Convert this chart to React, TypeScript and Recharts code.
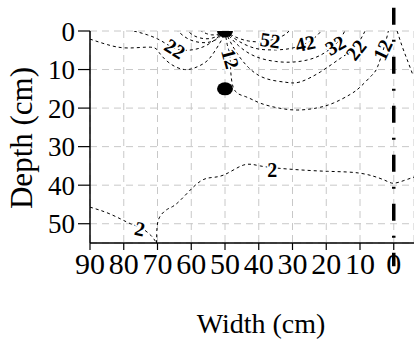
import React from 'react'
import {
  ComposedChart,
  Line,
  Scatter,
  XAxis,
  YAxis,
  CartesianGrid,
  ReferenceLine,
} from 'recharts'

// width (cm) runs 90 -> 0 from left to right, depth (cm) grows downwards
const WIDTH_TICKS = [90, 80, 70, 60, 50, 40, 30, 20, 10, 0]
const TOP_TICKS = [80, 70, 60, 50, 40, 30, 20, 10, 0]
const DEPTH_TICKS = [0, 10, 20, 30, 40, 50]

// contour traces as [width, depth]
const C52_RIGHT = [[50, 0], [47, 1.5], [43, 2.6], [39, 2.8], [36.6, 2.4], [33, 1.3], [31, 0]]
const C52_LEFT = [[50, 0], [52, 0.8], [54, 1], [56, 0.5], [57, 0]]
const C42_RIGHT = [[50, 0], [46, 2.6], [41, 4.5], [36, 4.9], [31, 4.6], [26.5, 3.4], [23.5, 1.8], [21.5, 0]]
const C42_LEFT = [[50, 0], [53, 1.6], [56, 2], [59, 1.3], [61, 0]]
const C32_RIGHT = [[50, 0], [46, 3.8], [41, 6.6], [35, 7.9], [29, 8], [23, 6.8], [18.5, 4.4], [16, 2.2], [14.5, 0]]
const C32_LEFT = [[50, 0], [53, 2.4], [57, 3], [61, 2], [64, 0]]
const C22_RIGHT = [[50, 0], [47, 5], [43, 9.5], [38, 12.3], [32, 13.3], [27.7, 13.2], [21.7, 10.6], [16, 7.2], [12.3, 4.9], [10, 2.4], [8.5, 0]]
const C22_LEFT = [[77, 0], [73, 1], [69, 2.5], [65, 4.5], [61, 5], [57, 4.3], [53.5, 2.6], [50, 0]]
const C12_LEFT = [[90, 2.1], [85, 3.5], [79, 4.4], [72, 4.2], [69.5, 5.6], [66.5, 8.3], [62, 10], [58, 9.2], [55, 7.5], [52.5, 4.5], [50.5, 1.5], [50, 0]]
const C12_RIGHT = [[50, 0], [49.2, 4], [48.5, 7], [47.6, 14.5], [44, 17], [39.6, 18.7], [34, 20], [28.6, 20.5], [23, 20], [17.9, 18.7], [13, 16.5], [9.9, 14.5], [6.5, 11.5], [4.8, 9.3], [3.1, 4.9], [2.2, 2.2], [1.6, 0]]
const C12_MIRROR = [[-1, 0], [-2.5, 4], [-4, 7.5], [-5.5, 11]]
const C2_LOWER = [[90, 45.7], [84, 47.5], [78, 50], [75, 51], [72, 53], [70.3, 55]]
const C2_MAIN = [[70.3, 55], [70.2, 52], [69.5, 48.5], [67, 46.2], [64.2, 44.7], [59.4, 40.5], [55.3, 38.2], [50.5, 37.4], [44.6, 34.8], [39.6, 35], [31.5, 35.8], [19.7, 36.4], [9.9, 36.9], [3, 38.6], [0.1, 39.5], [-3, 38.8], [-6, 37.9]]

const CONTOURS = [
  C52_RIGHT, C52_LEFT, C42_RIGHT, C42_LEFT, C32_RIGHT, C32_LEFT,
  C22_RIGHT, C22_LEFT, C12_LEFT, C12_RIGHT, C12_MIRROR, C2_LOWER, C2_MAIN,
]

const CONTOUR_LABELS = [
  { id: 'l22', text: '22', w: 64.8, d: 4.6 },
  { id: 'l12', text: '12', w: 48.4, d: 7.2 },
  { id: 'r52', text: '52', w: 36.6, d: 2.4 },
  { id: 'r42', text: '42', w: 26.2, d: 3.2 },
  { id: 'r32', text: '32', w: 17.3, d: 3.7 },
  { id: 'r22', text: '22', w: 11.2, d: 4.9 },
  { id: 'r12', text: '12', w: 3.3, d: 4.9 },
  { id: 'm2', text: '2', w: 36, d: 36 },
  { id: 'b2', text: '2', w: 75.2, d: 51.3 },
]

const EMITTERS = [
  { w: 50, d: 0 },
  { w: 50, d: 15 },
]

const LABEL_ANGLE: Record<string, number> = {
  l22: 32, l12: 75, r52: 8, r42: -12, r32: -30, r22: -52, r12: -65, m2: 0, b2: 12,
}

const serif = { fontFamily: 'Liberation Serif' }

const toPoints = (c: number[][]) => c.map(([w, d]) => ({ w, d }))

const ContourLabel = (props: any) => {
  const { cx, cy, payload } = props
  const angle = LABEL_ANGLE[payload.id] ?? 0
  return (
    <text
      x={cx}
      y={cy}
      transform={`rotate(${angle} ${cx} ${cy})`}
      textAnchor="middle"
      dominantBaseline="central"
      style={serif}
      fontSize={20}
      fontWeight="bold"
      fill="#000"
      stroke="#fff"
      strokeWidth={3}
      paintOrder="stroke"
    >
      {payload.text}
    </text>
  )
}

const Emitter = (props: any) => <ellipse cx={props.cx} cy={props.cy} rx={8} ry={6.5} fill="#000" />

const XTitle = () => (
  <text x={261} y={333} textAnchor="middle" style={serif} fontSize={28} fill="#000">
    Width (cm)
  </text>
)

const YTitle = () => (
  <text x={32} y={138} transform="rotate(-90 32 138)" textAnchor="middle" style={serif} fontSize={31} fill="#000">
    Depth (cm)
  </text>
)

export default function App() {
  return (
    <div style={{ position: 'absolute', top: 0, left: 0, width: 414, height: 340, background: '#fff' }}>
      <ComposedChart width={414} height={340} margin={{ top: 31, right: 0, bottom: 0, left: 0 }}>
        <CartesianGrid xAxisId="bottom" stroke="#c8c8c8" strokeDasharray="7 5" />
        <XAxis
          xAxisId="bottom"
          type="number"
          dataKey="w"
          domain={[-6, 90]}
          reversed
          allowDataOverflow
          ticks={WIDTH_TICKS}
          interval={0}
          height={97}
          tickSize={7}
          tickMargin={3}
          axisLine={{ stroke: '#000', strokeWidth: 1.5 }}
          tickLine={{ stroke: '#000', strokeWidth: 1.2 }}
          tick={{ fontSize: 30, fill: '#000', style: serif }}
          label={<XTitle />}
        />
        <XAxis
          xAxisId="top"
          orientation="top"
          type="number"
          dataKey="w"
          domain={[-6, 90]}
          reversed
          allowDataOverflow
          ticks={TOP_TICKS}
          interval={0}
          height={0}
          tickSize={8}
          tickFormatter={() => ''}
          axisLine={{ stroke: '#000', strokeWidth: 1.5 }}
          tickLine={{ stroke: '#000', strokeWidth: 1.2 }}
        />
        <YAxis
          type="number"
          dataKey="d"
          domain={[0, 55]}
          reversed
          allowDataOverflow
          ticks={DEPTH_TICKS}
          interval={0}
          width={90}
          tickSize={12}
          tickMargin={3}
          axisLine={{ stroke: '#000', strokeWidth: 1.5 }}
          tickLine={{ stroke: '#000', strokeWidth: 1.2 }}
          tick={{ fontSize: 27, fill: '#000', style: serif }}
          label={<YTitle />}
        />
        {CONTOURS.map((c, i) => (
          <Line
            key={`contour-${i}`}
            xAxisId="bottom"
            data={toPoints(c)}
            dataKey="d"
            type="natural"
            dot={false}
            activeDot={false}
            stroke="#000"
            strokeWidth={1}
            strokeDasharray="3 3"
            isAnimationActive={false}
          />
        ))}
        <ReferenceLine
          xAxisId="bottom"
          segment={[{ x: 0, y: -6 }, { x: 0, y: 61 }]}
          ifOverflow="visible"
          stroke="#000"
          strokeWidth={3.5}
          strokeDasharray="17 15 2 15"
        />
        <Scatter xAxisId="bottom" data={CONTOUR_LABELS} dataKey="d" shape={<ContourLabel />} isAnimationActive={false} />
        <Scatter xAxisId="bottom" data={EMITTERS} dataKey="d" shape={<Emitter />} isAnimationActive={false} />
      </ComposedChart>
    </div>
  )
}
